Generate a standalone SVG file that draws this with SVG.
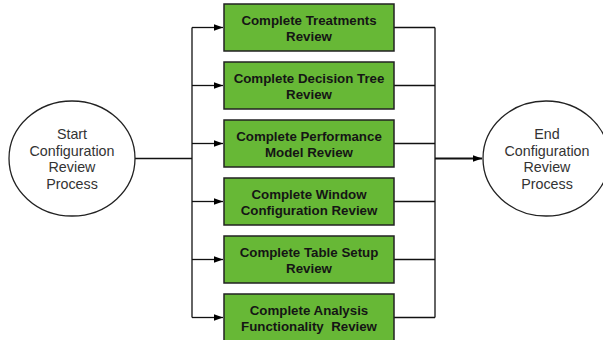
<svg xmlns="http://www.w3.org/2000/svg" width="603" height="340" viewBox="0 0 603 340">
<style>
.box{fill:#67b836;stroke:#222;stroke-width:1.5}
.bt{font-family:"Liberation Sans",Arial,sans-serif;font-size:13.3px;font-weight:bold;fill:#151515;text-anchor:middle}
.el{fill:#fff;stroke:#222;stroke-width:1.3}
.et{font-family:"Liberation Sans",Arial,sans-serif;font-size:14.3px;fill:#333;text-anchor:middle}
.ln{fill:none;stroke:#111;stroke-width:1.3}
</style>
<defs>
<marker id="ah" markerWidth="10" markerHeight="8" refX="9" refY="4" orient="auto" markerUnits="userSpaceOnUse">
<path d="M0,0.8 L9,4 L0,7.2 Z" fill="#000"/>
</marker>
</defs>
<rect width="603" height="340" fill="#fff"/>
<g id="connectors">
<path class="ln" d="M135,158.5 H192"/>
<path class="ln" d="M192,27.5 V317.5"/>
<path class="ln" marker-end="url(#ah)" d="M192,27.5 H223"/>
<path class="ln" marker-end="url(#ah)" d="M192,85.5 H223"/>
<path class="ln" marker-end="url(#ah)" d="M192,143.5 H223"/>
<path class="ln" marker-end="url(#ah)" d="M192,201.5 H223"/>
<path class="ln" marker-end="url(#ah)" d="M192,259.5 H223"/>
<path class="ln" marker-end="url(#ah)" d="M192,317.5 H223"/>
<path class="ln" d="M394,27.5 H435 M394,85.5 H435 M394,143.5 H435 M394,201.5 H435 M394,259.5 H435 M394,317.5 H435"/>
<path class="ln" d="M435,27.5 V317.5"/>
<path fill="none" stroke="#111" stroke-width="2" marker-end="url(#ah)" d="M435,158.5 H482"/>
</g>
<g id="start">
<ellipse class="el" cx="72" cy="158.5" rx="63" ry="57.5"/>
<text class="et" x="72" y="139">Start</text>
<text class="et" x="72" y="155.7">Configuration</text>
<text class="et" x="72" y="172.4">Review</text>
<text class="et" x="72" y="189">Process</text>
</g>
<g id="end">
<ellipse class="el" cx="546" cy="158.5" rx="63" ry="57.5"/>
<text class="et" x="547" y="139">End</text>
<text class="et" x="547" y="155.7">Configuration</text>
<text class="et" x="547" y="172.4">Review</text>
<text class="et" x="547" y="189">Process</text>
</g>
<g id="n1">
<rect class="box" x="224" y="4" width="170" height="47"/>
<text class="bt" x="309" y="24.5">Complete Treatments</text>
<text class="bt" x="309" y="40.5">Review</text>
</g>
<g id="n2">
<rect class="box" x="224" y="62" width="170" height="47"/>
<text class="bt" x="309" y="82.5">Complete Decision Tree</text>
<text class="bt" x="309" y="98.5">Review</text>
</g>
<g id="n3">
<rect class="box" x="224" y="120" width="170" height="47"/>
<text class="bt" x="309" y="140.5">Complete Performance</text>
<text class="bt" x="309" y="156.5">Model Review</text>
</g>
<g id="n4">
<rect class="box" x="224" y="178" width="170" height="47"/>
<text class="bt" x="309" y="198.5">Complete Window</text>
<text class="bt" x="309" y="214.5">Configuration Review</text>
</g>
<g id="n5">
<rect class="box" x="224" y="236" width="170" height="47"/>
<text class="bt" x="309" y="256.5">Complete Table Setup</text>
<text class="bt" x="309" y="272.5">Review</text>
</g>
<g id="n6">
<rect class="box" x="224" y="294" width="170" height="47"/>
<text class="bt" x="309" y="314.5">Complete Analysis</text>
<text class="bt" x="309" y="330.5" xml:space="preserve">Functionality  Review</text>
</g>
</svg>
